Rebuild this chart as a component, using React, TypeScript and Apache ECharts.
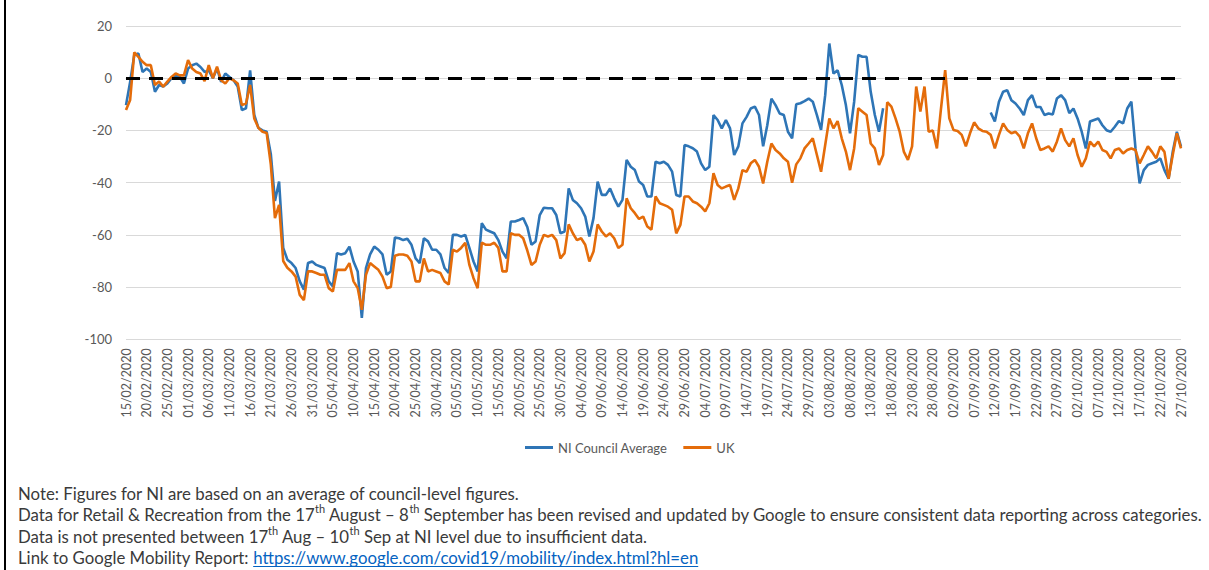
import React, { useEffect, useRef } from "react";
import * as echarts from "echarts";

// ---------- categories (daily, 15/02/2020 .. 27/10/2020) ----------
const FIRST_DAY = [2020, 1, 15]; // year, monthIndex, day
const DAY_COUNT = 256;

// ---------- NI Council Average (null = not presented, 17 Aug – 10 Sep) ----------
const niFebMar = [-10.3, -1.4, 8.9, 9.5, 2.4, 3.7, 2.4, -5.2, -2.6, -3.2, -2, 0, 1.1, 0.5, -2, 3.7, 5, 5.6, 4.3, 2.4, 3, 0, 3.7, -1.4, 1.8, 0.5, -0.8, -3.2, -12.2, -11.5, 3, -14, -19];
const niMarApr = [-20, -20.5, -29, -47, -39.6, -65, -69.5, -70.8, -72.7, -77.8, -81, -70.8, -70.2, -71.5, -72.1, -72.7, -77.8, -79.7, -67, -67.5, -67, -64.5, -70.2, -74, -91.8, -72.7, -67.5, -64.5, -65.7, -67.5, -75.3, -74, -61];
const niAprMay = [-61.3, -62, -61.5, -63.8, -69, -70.8, -61.3, -62.5, -65.7, -65.7, -67.5, -72.7, -74.6, -60, -60, -60.6, -60, -65, -70.2, -74, -55.5, -58, -58.7, -59.4, -62, -66.4, -69, -54.9, -54.9, -54.3, -53.6, -57];
const niMayJun = [-63.8, -62.5, -52.4, -49.6, -49.8, -49.8, -52.4, -59.4, -58.7, -42.2, -46.6, -47.9, -49.8, -53, -60.6, -53.6, -39.6, -44.7, -44.7, -42.2, -46, -49.2, -46.6, -31.3, -33.9, -35.2, -39.6, -40.9, -45.3, -45.3, -32, -32.6, -32];
const niJunJul = [-33.2, -35.8, -44.7, -45.3, -25.6, -26.1, -26.8, -28.1, -32.6, -35.2, -33.9, -14.1, -16, -19.2, -16, -19.2, -29.4, -26.1, -17.3, -14.8, -11.6, -10.9, -14.1, -26.1, -18, -7.8, -10.3, -13.5, -14.1, -20.5, -23, -10];
const niAug = [-9.6, -8.8, -7.8, -9, -14.1, -19.8, -6.5, 13.3, 1.8, 3, -2.6, -10.3, -21.1, -9, 8.9, 8.2, 8.2, -5.2, -14.1, -20.5, -11.5];
const niGap = [null, null, null, null, null, null, null, null, null, null, null, null, null, null, null, null, null, null, null, null, null, null, null, null, null];
const niSep = [-13.1, -16.6, -9, -5.2, -4.6, -8.4, -9.7, -11.6, -14.1, -8.4, -6.5, -11, -11, -14.1, -13.5, -13.9, -7.8];
const niSepOct = [-6.5, -8.4, -13.4, -11.6, -15.4, -20.5, -26.9, -16.6, -16, -15.4, -18, -19.9, -20.5, -18.6, -16.4, -17.3, -11.6, -9, -26.9, -40.3, -35.2, -33.2, -32.6, -32, -30.7, -35.2, -38.5, -28.2, -20.5, -26.2];

// ---------- UK ----------
const ukFebMar = [-12.2, -8.3, 9.9, 8.2, 6.3, 5, 5, -2.6, -1.3, -3.2, -1.3, 0.5, 1.8, 1.1, 1.1, 6.9, 3.7, 2.4, 1.8, -1.1, 5, 0, 4.4, -0.8, -2, 0, -0.8, -2, -10.3, -9.7, -2.6, -15.4, -19];
const ukMarApr = [-20.5, -21, -33, -53.6, -48.5, -70, -72.6, -74, -76, -83, -85, -74, -74, -74.6, -75.3, -75.3, -80.4, -81.7, -73.4, -73.4, -73.4, -70.8, -77.8, -80.4, -88.7, -75.3, -70.8, -72.1, -73.4, -76, -80.4, -80, -68];
const ukAprMay = [-67.5, -67.5, -68, -70.2, -77.8, -77.8, -69, -74, -73.4, -74, -74.6, -77.8, -79, -65.7, -66.4, -65, -63, -71.5, -76.6, -80.4, -63, -63.8, -63.8, -63, -65, -74, -74, -59.4, -60, -60, -61.3, -66];
const ukMayJun = [-71.5, -70.2, -63.8, -60, -60.6, -60, -62, -69, -67, -56, -59.4, -62, -61.3, -63.8, -70.2, -66.4, -56, -58.7, -60.6, -59.4, -61.3, -65, -63.8, -46, -49.8, -51.7, -53.9, -53, -56.8, -58, -45.3, -47.9, -48.5];
const ukJunJul = [-49.2, -50.4, -59.4, -56.2, -45.3, -45.3, -47.2, -47.9, -49.2, -51, -47.9, -36.4, -40.9, -42.2, -41.5, -40.9, -46.6, -42.2, -35.2, -35.8, -32.6, -31.3, -33.9, -40.3, -32, -25, -27.5, -28.8, -30.7, -32, -40, -33];
const ukAugSep = [-30.7, -26.9, -25, -23, -29.4, -35.8, -25.6, -15.4, -19.2, -16.4, -23, -28.1, -35.2, -26.9, -11.5, -12.8, -14.1, -25, -26.9, -33.2, -29.4, -9.2, -10.9, -15.4, -20.5, -28.1, -31.3, -26.1, -3.2, -12.8, -3.2, -20.5, -20];
const ukSep = [-26.9, -11.5, 3.1, -15.4, -19.8, -20.2, -21.7, -26.1, -21.1, -16.9, -19.2, -20.2, -20.5, -21.7, -26.9, -21.7, -17.3, -19.8, -21.1, -20.5, -22.3, -26.9, -21.1, -17.3, -23, -27.5, -26.9, -26.1, -28.1, -24.3, -19.2, -23.7, -26.1];
const ukOct = [-23, -29.4, -33.9, -30.7, -24.3, -26.1, -24.3, -27.5, -28.2, -30.7, -27.5, -26.9, -28.8, -27.5, -26.9, -27.5, -32.6, -29.4, -26.1, -28.2, -30.7, -26.1, -28.2, -38.5, -29.4, -21.1, -26.9];

// ---------- axis ----------
const Y_MIN = -100;
const Y_MAX = 20;
const Y_STEP = 20;
const LABEL_EVERY = 5;

const SERIES_NAMES = ["NI Council Average", "UK"];

const NOTE_1 = "Note: Figures for NI are based on an average of council-level figures.";
const NOTE_2 = "{n|Data for Retail & Recreation from the 17}{s|th}{n| August – 8}{s|th}{n| September has been revised and updated by Google to ensure consistent data reporting across categories.}";
const NOTE_3 = "{n|Data is not presented between 17}{s|th}{n| Aug – 10}{s|th}{n| Sep at NI level due to insufficient data.}";
const NOTE_4_PREFIX = "Link to Google Mobility Report: ";
const NOTE_4_LINK = "https://www.google.com/covid19/mobility/index.html?hl=en";

const FONT = "Lato";
const BLUE = "#2E75B6";
const ORANGE = "#E46C0A";
const AXIS_TEXT = "#595959";
const NOTE_TEXT = "#3a3a3a";
const NOTE_SIZE = 16.8;

function buildDates(): string[] {
  const out: string[] = [];
  for (let i = 0; i < DAY_COUNT; i++) {
    const d = new Date(FIRST_DAY[0], FIRST_DAY[1], FIRST_DAY[2] + i);
    const dd = String(d.getDate()).padStart(2, "0");
    const mm = String(d.getMonth() + 1).padStart(2, "0");
    out.push(`${dd}/${mm}/${d.getFullYear()}`);
  }
  return out;
}

function measure(text: string, size: number): number {
  const c = document.createElement("canvas").getContext("2d");
  if (!c) return text.length * size * 0.5;
  c.font = `${size}px ${FONT}`;
  return c.measureText(text).width;
}

export default function App() {
  const ref = useRef<HTMLDivElement>(null);

  useEffect(() => {
    if (!ref.current) return;
    const chart = echarts.init(ref.current, null, { renderer: "svg" });
    const dates = buildDates();
    const ni = [...niFebMar, ...niMarApr, ...niAprMay, ...niMayJun, ...niJunJul, ...niAug, ...niGap, ...niSep, ...niSepOct];
    const uk = [...ukFebMar, ...ukMarApr, ...ukAprMay, ...ukMayJun, ...ukJunJul, ...ukAugSep, ...ukSep, ...ukOct];

    const noteX = 18;
    const prefixW = measure(NOTE_4_PREFIX, NOTE_SIZE);
    const linkW = measure(NOTE_4_LINK, NOTE_SIZE);
    const rich = {
      n: { fontSize: NOTE_SIZE, fontFamily: FONT, lineHeight: 22 },
      s: { fontSize: 11, fontFamily: FONT, lineHeight: 14, verticalAlign: "top" },
    };

    const option: any = {
      animation: false,
      backgroundColor: "#ffffff",
      textStyle: { fontFamily: FONT },
      grid: { left: 126, right: 28, top: 26, height: 313.3 },
      legend: {
        data: SERIES_NAMES,
        left: 520,
        top: 436,
        icon: "rect",
        itemWidth: 28,
        itemHeight: 3,
        itemGap: 16,
        textStyle: { fontSize: 13, color: AXIS_TEXT, fontFamily: FONT },
      },
      xAxis: {
        type: "category",
        data: dates,
        boundaryGap: false,
        axisLine: { lineStyle: { color: "#d9d9d9" } },
        axisTick: { show: false },
        axisLabel: {
          interval: LABEL_EVERY - 1,
          rotate: 90,
          fontSize: 12.5,
          color: AXIS_TEXT,
          margin: 9,
          fontFamily: FONT,
        },
      },
      yAxis: {
        type: "value",
        min: Y_MIN,
        max: Y_MAX,
        interval: Y_STEP,
        axisLine: { show: false },
        axisTick: { show: false },
        splitLine: { lineStyle: { color: "#d9d9d9", width: 1 } },
        axisLabel: { fontSize: 13, color: AXIS_TEXT, margin: 14, fontFamily: FONT },
      },
      series: [
        {
          name: "zero",
          type: "line",
          data: [],
          silent: true,
          markLine: {
            silent: true,
            symbol: "none",
            label: { show: false },
            lineStyle: { color: "#000000", width: 3, type: [14, 9] },
            data: [{ yAxis: 0 }],
          },
        },
        {
          name: SERIES_NAMES[0],
          type: "line",
          data: ni,
          showSymbol: false,
          connectNulls: false,
          color: BLUE,
          lineStyle: { width: 2.6, color: BLUE },
        },
        {
          name: SERIES_NAMES[1],
          type: "line",
          data: uk,
          showSymbol: false,
          color: ORANGE,
          lineStyle: { width: 2.6, color: ORANGE },
        },
      ],
      graphic: [
        { type: "rect", shape: { x: 4, y: 0, width: 2, height: 570 }, style: { fill: "#000" }, silent: true },
        {
          type: "text",
          x: noteX,
          y: 493,
          style: { text: NOTE_1, fontSize: NOTE_SIZE, fontFamily: FONT, fill: NOTE_TEXT, verticalAlign: "middle" },
        },
        {
          type: "text",
          x: noteX,
          y: 514,
          style: { text: NOTE_2, rich, fill: NOTE_TEXT, verticalAlign: "middle" },
        },
        {
          type: "text",
          x: noteX,
          y: 536,
          style: { text: NOTE_3, rich, fill: NOTE_TEXT, verticalAlign: "middle" },
        },
        {
          type: "text",
          x: noteX,
          y: 557,
          style: { text: NOTE_4_PREFIX, fontSize: NOTE_SIZE, fontFamily: FONT, fill: NOTE_TEXT, verticalAlign: "middle" },
        },
        {
          type: "text",
          x: noteX + prefixW,
          y: 557,
          style: { text: NOTE_4_LINK, fontSize: NOTE_SIZE, fontFamily: FONT, fill: "#0563C1", verticalAlign: "middle" },
        },
        {
          type: "line",
          shape: { x1: noteX + prefixW, y1: 566.5, x2: noteX + prefixW + linkW, y2: 566.5 },
          style: { stroke: "#0563C1", lineWidth: 1 },
          silent: true,
        },
      ],
    };
    chart.setOption(option);
    return () => chart.dispose();
  }, []);

  return (
    <div
      ref={ref}
      style={{ position: "absolute", left: 0, top: 0, width: 1209, height: 570, background: "#fff" }}
    />
  );
}
